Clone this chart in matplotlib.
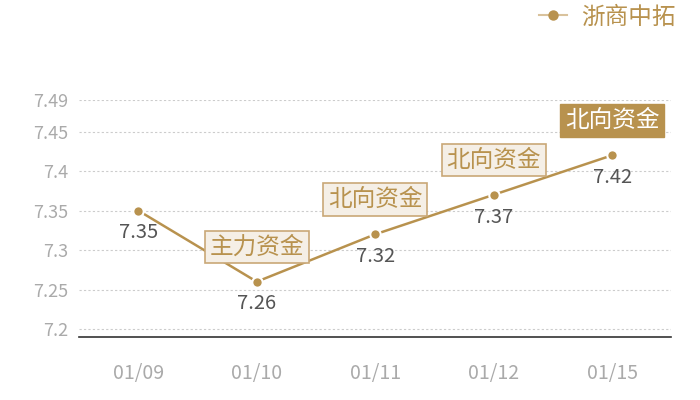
import matplotlib
matplotlib.use('Agg')
import matplotlib.pyplot as plt
from matplotlib.lines import Line2D

plt.rcParams['font.family'] = ['Noto Sans CJK SC', 'DejaVu Sans']

dates = ['01/09', '01/10', '01/11', '01/12', '01/15']
prices = [7.35, 7.26, 7.32, 7.37, 7.42]
tags = [None, '主力资金', '北向资金', '北向资金', '北向资金']
tag_filled = [False, False, False, False, True]
y_ticks = [7.2, 7.25, 7.3, 7.35, 7.4, 7.45, 7.49]
y_tick_labels = ['7.2', '7.25', '7.3', '7.35', '7.4', '7.45', '7.49']
series_name = '浙商中拓'

gold = '#b8924e'

fig = plt.figure(figsize=(7, 4), dpi=100)
ax = fig.add_axes([0.113, 0.1575, 0.846, 0.5925])

x = list(range(len(dates)))
ax.plot(x, prices, color=gold, lw=1.8, marker='o', ms=7.5,
        mec='white', mew=1.5, zorder=3)

ax.set_xlim(-0.5, len(dates) - 0.5)
ax.set_ylim(7.19, 7.49)
ax.set_yticks(y_ticks)
ax.set_yticklabels(y_tick_labels)
ax.set_xticks(x)
ax.set_xticklabels(dates)
ax.tick_params(axis='y', length=0, pad=8, labelsize=13, labelcolor='#aaaaaa')
ax.tick_params(axis='x', length=0, pad=19, labelsize=14, labelcolor='#aaaaaa')

ax.grid(axis='y', linestyle=(0, (2, 2)), color='#cccccc', lw=0.8)
for s in ['top', 'right', 'left']:
    ax.spines[s].set_visible(False)
ax.spines['bottom'].set_color('#333333')
ax.spines['bottom'].set_linewidth(1.2)

for xi, v in zip(x, prices):
    ax.annotate(f'{v:g}', (xi, v), xytext=(0, -16), textcoords='offset points',
                ha='center', va='center', fontsize=14.5, color='#555555')

for xi, v, t, filled in zip(x, prices, tags, tag_filled):
    if t is None:
        continue
    if filled:
        box = dict(boxstyle='square,pad=0.2', fc=gold, ec=gold, lw=1)
        tc = 'white'
    else:
        box = dict(boxstyle='square,pad=0.2', fc='#f5efe6', ec='#c9a877', lw=1.2)
        tc = gold
    ax.annotate(t, (xi, v), xytext=(0, 25), textcoords='offset points',
                ha='center', va='center', fontsize=17, color=tc, bbox=box, zorder=4)

# legend: lighter line with a solid dot
handle = Line2D([], [], color='#d9c29c', lw=1.5, marker='o', ms=7.5,
                mfc=gold, mec=gold, mew=0)
leg = fig.legend([handle], [series_name], loc='center right',
                 bbox_to_anchor=(676 / 700, 1 - 17 / 400),
                 frameon=False, fontsize=17, handlelength=1.2, handletextpad=0.6,
                 borderpad=0, borderaxespad=0)
for txt in leg.get_texts():
    txt.set_color(gold)

fig.savefig('out.png', dpi=100)
